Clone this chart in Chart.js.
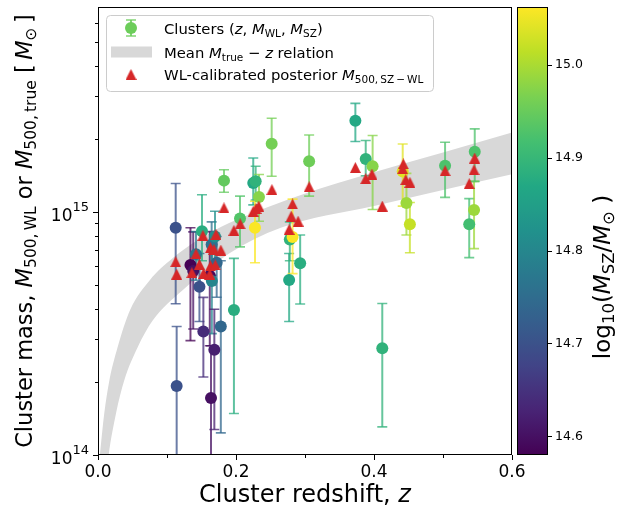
<!DOCTYPE html>
<html><head><meta charset="utf-8">
<script src="https://cdn.jsdelivr.net/npm/chart.js@4/dist/chart.umd.min.js"></script>
<style>html,body{margin:0;padding:0;background:#fff}#wrap{width:628px;height:511px}</style>
</head><body><div id="wrap"><canvas id="c" width="628" height="511"></canvas></div>
<script>
// ---------------- DATA ----------------
// Clusters: redshift, log10 M_WL, error bar low/high (log10), log10 M_SZ (colour)
const clusterZ     = [0.1126,0.114,0.134,0.138,0.142,0.147,0.1507,0.1527,0.162,0.1647,0.165,0.1638,0.1686,0.1696,0.172,0.178,0.1826,0.197,0.2058,0.225,0.2285,0.2333,0.2275,0.2517,0.277,0.278,0.282,0.293,0.306,0.373,0.388,0.398,0.412,0.4416,0.447,0.452,0.503,0.538,0.545,0.546];
const clusterLogM  = [14.936,14.284,14.783,14.758,14.827,14.693,14.922,14.509,14.738,14.867,14.717,14.235,14.433,14.900,14.792,14.529,15.130,14.597,14.974,15.120,15.127,15.063,14.936,15.282,14.721,14.888,14.898,14.790,15.210,15.377,15.219,15.189,14.440,15.168,15.038,14.950,15.191,14.950,15.009,15.249];
const clusterErrLo = [14.623,13.90,14.471,14.519,14.72,14.55,14.80,14.321,14.45,14.74,14.50,13.90,14.105,14.80,14.65,14.091,15.082,14.171,14.857,15.03,15.05,14.963,14.792,15.148,14.550,14.80,14.747,14.622,15.066,15.291,15.15,15.011,14.116,15.025,14.906,14.833,15.061,14.813,14.850,15.127];
const clusterErrHi = [15.118,14.529,14.936,14.919,14.92,14.83,15.072,14.649,14.92,14.96,14.85,14.45,14.60,15.004,14.90,14.80,15.175,14.810,15.066,15.223,15.189,15.155,15.045,15.387,14.83,14.96,15.054,14.906,15.318,15.448,15.295,15.316,14.624,15.281,15.16,15.04,15.288,15.056,15.127,15.343];
const clusterLogMsz= [14.70,14.70,14.58,14.60,14.77,14.70,14.88,14.64,14.59,14.76,14.80,14.60,14.62,14.82,14.74,14.74,14.945,14.88,14.93,14.87,14.89,14.975,15.06,14.96,14.87,14.89,15.06,14.88,14.955,14.87,14.89,14.975,14.89,15.04,14.99,15.02,14.925,14.915,14.99,14.925];
// WL-calibrated posterior M_500,SZ-WL
const postZ    = [0.1126,0.114,0.142,0.136,0.147,0.152,0.153,0.163,0.171,0.168,0.178,0.163,0.170,0.162,0.1826,0.197,0.206,0.225,0.229,0.233,0.252,0.282,0.280,0.277,0.290,0.306,0.373,0.388,0.397,0.412,0.4425,0.4415,0.446,0.452,0.503,0.546,0.545,0.538];
const postLogM = [14.796,14.745,14.829,14.751,14.786,14.905,14.748,14.854,14.909,14.847,14.844,14.779,14.783,14.745,15.018,14.925,14.952,15.004,15.015,15.025,15.093,15.034,14.984,14.929,14.963,15.105,15.184,15.138,15.157,15.025,15.199,15.179,15.134,15.123,15.171,15.223,15.175,15.118];
// Mean M_true - z relation band (edges)
const bandUpperZ    = [0.002,0.009,0.016,0.028,0.047,0.075,0.108,0.142,0.19,0.264,0.293,0.4,0.5,0.6];
const bandUpperLogM = [13.98,14.17,14.30,14.44,14.60,14.72,14.81,14.88,14.955,15.04,15.07,15.164,15.246,15.328];
const bandLowerZ    = [0.002,0.008,0.0145,0.026,0.038,0.0575,0.079,0.123,0.19,0.264,0.4,0.5,0.6];
const bandLowerLogM = [13.55,13.80,13.98,14.17,14.307,14.444,14.553,14.68,14.83,14.935,15.025,15.091,15.156];
// Axes / ticks
const xRange = [0, 0.6];
const xMajorTicks = [0, 0.2, 0.4, 0.6];
const xMajorLabels = ['0.0', '0.2', '0.4', '0.6'];
const xMinorTicks = [0.1, 0.3, 0.5];
const yRange = [1e14, 7e15];
const yMajorTicks = [1e14, 1e15];
const yMajorExp = ['14', '15'];
const yMinorTicks = [2e14,3e14,4e14,5e14,6e14,7e14,8e14,9e14,2e15,3e15,4e15,5e15,6e15];
const cbRange = [14.58, 15.062];
const cbTicks = [14.6, 14.7, 14.8, 14.9, 15.0];
const cbTickLabels = ['14.6', '14.7', '14.8', '14.9', '15.0'];

// ---------------- helpers ----------------
const FONT = '"DejaVu Sans"';
const vStops = ['#440154','#482475','#414487','#355f8d','#2a788e','#21918c','#22a884','#44bf70','#7ad151','#bddf26','#fde725'];
function h2r(h){return [parseInt(h.slice(1,3),16),parseInt(h.slice(3,5),16),parseInt(h.slice(5,7),16)];}
function viridis(t){t=Math.max(0,Math.min(1,t));const f=t*10;const i=Math.min(9,Math.floor(f));const u=f-i;const a=h2r(vStops[i]),b=h2r(vStops[i+1]);return [0,1,2].map(k=>Math.round(a[k]+(b[k]-a[k])*u));}
function cmap(v,alpha){const c=viridis((v-cbRange[0])/(cbRange[1]-cbRange[0]));return alpha===undefined?`rgb(${c[0]},${c[1]},${c[2]})`:`rgba(${c[0]},${c[1]},${c[2]},${alpha})`;}
function fstr(s){return (s.it?'italic ':'')+s.sz+'px '+FONT;}
function richW(ctx,segs){let w=0;for(const s of segs){ctx.font=fstr(s);w+=ctx.measureText(s.t).width+(s.gap||0);}return w;}
function drawRich(ctx,segs,x,y,align){const w=richW(ctx,segs);let cx=align==='center'?x-w/2:(align==='right'?x-w:x);ctx.textAlign='left';ctx.textBaseline='alphabetic';for(const s of segs){ctx.font=fstr(s);ctx.fillText(s.t,cx,y+(s.dy||0));cx+=ctx.measureText(s.t).width+(s.gap||0);}}
function triCanvas(size,color){const c=document.createElement('canvas');c.width=size;c.height=size;const g=c.getContext('2d');g.fillStyle=color;g.beginPath();g.moveTo(size/2,0);g.lineTo(size,size);g.lineTo(0,size);g.closePath();g.fill();return c;}
const RED='#d62728';
const triImg = triCanvas(11, RED);
const triLegend = triCanvas(11, RED);

const circleData = clusterZ.map((z,i)=>({x:z,y:Math.pow(10,clusterLogM[i])}));
const circleColors = clusterLogMsz.map(v=>cmap(v));
const triData = postZ.map((z,i)=>({x:z,y:Math.pow(10,postLogM[i])}));
const bandUp = bandUpperZ.map((z,i)=>({x:z,y:Math.pow(10,bandUpperLogM[i])}));
const bandLo = bandLowerZ.map((z,i)=>({x:z,y:Math.pow(10,bandLowerLogM[i])}));

function drawErrorBars(chart){
  const ctx=chart.ctx, xs=chart.scales.x, ys=chart.scales.y, a=chart.chartArea;
  ctx.save();ctx.beginPath();ctx.rect(a.left,a.top,a.right-a.left,a.bottom-a.top);ctx.clip();
  for(let i=0;i<clusterZ.length;i++){
    const px=xs.getPixelForValue(clusterZ[i]);
    const y1=ys.getPixelForValue(Math.pow(10,clusterErrLo[i]));
    const y2=ys.getPixelForValue(Math.pow(10,clusterErrHi[i]));
    ctx.strokeStyle=cmap(clusterLogMsz[i],0.75);
    ctx.lineWidth=2;
    ctx.beginPath();ctx.moveTo(px,y1);ctx.lineTo(px,y2);ctx.stroke();
    ctx.lineWidth=1.6;
    ctx.beginPath();ctx.moveTo(px-5,y1);ctx.lineTo(px+5,y1);ctx.moveTo(px-5,y2);ctx.lineTo(px+5,y2);ctx.stroke();
  }
  ctx.restore();
}

function drawAxes(chart){
  const ctx=chart.ctx, xs=chart.scales.x, ys=chart.scales.y, a=chart.chartArea;
  ctx.save();
  ctx.strokeStyle='#000';ctx.fillStyle='#000';ctx.lineWidth=1;
  ctx.beginPath();
  xMajorTicks.forEach(v=>{const p=Math.round(xs.getPixelForValue(v))+0.5;ctx.moveTo(p,a.bottom);ctx.lineTo(p,a.bottom+5);});
  xMinorTicks.forEach(v=>{const p=Math.round(xs.getPixelForValue(v))+0.5;ctx.moveTo(p,a.bottom);ctx.lineTo(p,a.bottom+3);});
  yMajorTicks.forEach(v=>{const p=Math.round(ys.getPixelForValue(v))+0.5;ctx.moveTo(a.left,p);ctx.lineTo(a.left-5,p);});
  yMinorTicks.forEach(v=>{const p=Math.round(ys.getPixelForValue(v))+0.5;ctx.moveTo(a.left,p);ctx.lineTo(a.left-3,p);});
  ctx.stroke();
  ctx.strokeRect(Math.round(a.left)+0.5,Math.round(a.top)+0.5,Math.round(a.right-a.left)-1,Math.round(a.bottom-a.top)-1);
  ctx.textAlign='center';ctx.textBaseline='alphabetic';ctx.font='17px '+FONT;
  xMajorTicks.forEach((v,i)=>ctx.fillText(xMajorLabels[i],xs.getPixelForValue(v),a.bottom+22));
  yMajorTicks.forEach((v,i)=>{const p=ys.getPixelForValue(v);
    drawRich(ctx,[{t:'10',sz:17},{t:yMajorExp[i],sz:13,dy:-10}],a.left-9,p+8.5,'right');});
  drawRich(ctx,[{t:'Cluster redshift, ',sz:24},{t:'z',sz:24,it:true}],(a.left+a.right)/2,502,'center');
  const L=22.5,S=15.5;
  ctx.save();ctx.translate(32,(a.top+a.bottom)/2);ctx.rotate(-Math.PI/2);
  drawRich(ctx,[{t:'Cluster mass, ',sz:L},{t:'M',sz:L,it:true},{t:'500,\u2009WL',sz:S,dy:4},{t:' or ',sz:L},{t:'M',sz:L,it:true},{t:'500,\u2009true',sz:S,dy:4},{t:' [\u2009',sz:L},{t:'M',sz:L,it:true},{t:'\u2299',sz:S,dy:4},{t:'\u2009]',sz:L}],0,0,'center');
  ctx.restore();
  ctx.restore();
}

function drawColorbar(chart){
  const ctx=chart.ctx, cb=chart.scales.cb, a=chart.chartArea;
  const x0=a.right+5, w=31;
  const yTop=cb.getPixelForValue(cbRange[1]), yBot=cb.getPixelForValue(cbRange[0]);
  const g=ctx.createLinearGradient(0,yBot,0,yTop);
  for(let k=0;k<=20;k++){const c=viridis(k/20);g.addColorStop(k/20,`rgb(${c[0]},${c[1]},${c[2]})`);}
  ctx.save();
  ctx.fillStyle=g;ctx.fillRect(x0,yTop,w,yBot-yTop);
  ctx.strokeStyle='#000';ctx.lineWidth=1;
  ctx.strokeRect(Math.round(x0)+0.5,Math.round(yTop)+0.5,w-1,Math.round(yBot-yTop)-1);
  ctx.beginPath();
  cbTicks.forEach(v=>{const p=Math.round(cb.getPixelForValue(v))+0.5;ctx.moveTo(x0+w,p);ctx.lineTo(x0+w+4,p);});
  ctx.stroke();
  ctx.fillStyle='#000';ctx.font='12.5px '+FONT;ctx.textAlign='left';ctx.textBaseline='middle';
  cbTicks.forEach((v,i)=>ctx.fillText(cbTickLabels[i],x0+w+7,cb.getPixelForValue(v)));
  ctx.translate(610,277);ctx.rotate(-Math.PI/2);
  const F=23,s=16.5;
  drawRich(ctx,[{t:'log',sz:F},{t:'10',sz:s,dy:4},{t:'(',sz:F},{t:'M',sz:F,it:true},{t:'SZ',sz:s,dy:4},{t:'/',sz:F},{t:'M',sz:F,it:true},{t:'\u2299',sz:s,dy:4},{t:' )',sz:F}],0,0,'center');
  ctx.restore();
}

function drawLegend(chart){
  const ctx=chart.ctx, a=chart.chartArea;
  const bx=a.left+8, by=a.top+8, bw=327, bh=76;
  ctx.save();
  ctx.fillStyle='rgba(255,255,255,0.8)';ctx.strokeStyle='#cccccc';ctx.lineWidth=1;
  ctx.beginPath();ctx.roundRect(bx+0.5,by+0.5,bw,bh,4);ctx.fill();ctx.stroke();
  const hx=bx+25, tx=bx+58, r1=by+13, r2=by+37, r3=by+59.5;
  const gc='rgb(108,205,90)';
  ctx.strokeStyle='rgba(108,205,90,0.85)';ctx.lineWidth=2;
  ctx.beginPath();ctx.moveTo(hx,r1-8);ctx.lineTo(hx,r1+8);ctx.stroke();
  ctx.lineWidth=1.6;ctx.beginPath();ctx.moveTo(hx-5,r1-8);ctx.lineTo(hx+5,r1-8);ctx.moveTo(hx-5,r1+8);ctx.lineTo(hx+5,r1+8);ctx.stroke();
  ctx.fillStyle=gc;ctx.beginPath();ctx.arc(hx,r1,6,0,Math.PI*2);ctx.fill();
  ctx.fillStyle='#d8d8d8';ctx.fillRect(bx+5,r2-5.5,41,11);
  ctx.drawImage(triLegend,hx-5.5,r3-5.5);
  ctx.fillStyle='#000';
  const T=14.8,s=10.5;
  drawRich(ctx,[{t:'Clusters (',sz:T},{t:'z',sz:T,it:true},{t:', ',sz:T},{t:'M',sz:T,it:true},{t:'WL',sz:s,dy:3},{t:', ',sz:T},{t:'M',sz:T,it:true},{t:'SZ',sz:s,dy:3},{t:')',sz:T}],tx,r1+5.5,'left');
  drawRich(ctx,[{t:'Mean ',sz:T},{t:'M',sz:T,it:true},{t:'true',sz:s,dy:3},{t:' \u2212 ',sz:T},{t:'z',sz:T,it:true},{t:' relation',sz:T}],tx,r2+5.5,'left');
  drawRich(ctx,[{t:'WL-calibrated posterior ',sz:T},{t:'M',sz:T,it:true},{t:'500,\u2009SZ\u2009\u2212\u2009WL',sz:s,dy:3}],tx,r3+5.5,'left');
  ctx.restore();
}

const custom={id:'custom',
  beforeDatasetDraw(chart,args){ if(args.index===2) drawErrorBars(chart); },
  afterDraw(chart){ drawAxes(chart); drawColorbar(chart); drawLegend(chart); }
};

new Chart(document.getElementById('c'),{
  type:'scatter',
  data:{datasets:[
    {type:'line',label:'band upper',data:bandUp,borderWidth:0,pointRadius:0,fill:'+1',backgroundColor:'#d8d8d8',borderColor:'rgba(0,0,0,0)',cubicInterpolationMode:'monotone',order:3},
    {type:'line',label:'band lower',data:bandLo,borderWidth:0,pointRadius:0,fill:false,borderColor:'rgba(0,0,0,0)',cubicInterpolationMode:'monotone',order:3},
    {label:'Clusters',data:circleData,pointRadius:6,pointHoverRadius:6,pointBorderWidth:0,backgroundColor:circleColors,pointBackgroundColor:circleColors,borderColor:'rgba(0,0,0,0)',order:1},
    {label:'WL-calibrated',data:triData,pointStyle:triImg,pointRadius:6,backgroundColor:RED,order:0}
  ]},
  options:{
    responsive:false,animation:false,devicePixelRatio:1,
    layout:{padding:{left:98,top:5,right:116,bottom:56}},
    plugins:{legend:{display:false},tooltip:{enabled:false}},
    scales:{
      x:{type:'linear',min:xRange[0],max:xRange[1],display:false},
      y:{type:'logarithmic',min:yRange[0],max:yRange[1],display:false},
      cb:{type:'linear',axis:'y',min:cbRange[0],max:cbRange[1],display:false}
    }
  },
  plugins:[custom]
});
</script></body></html>
